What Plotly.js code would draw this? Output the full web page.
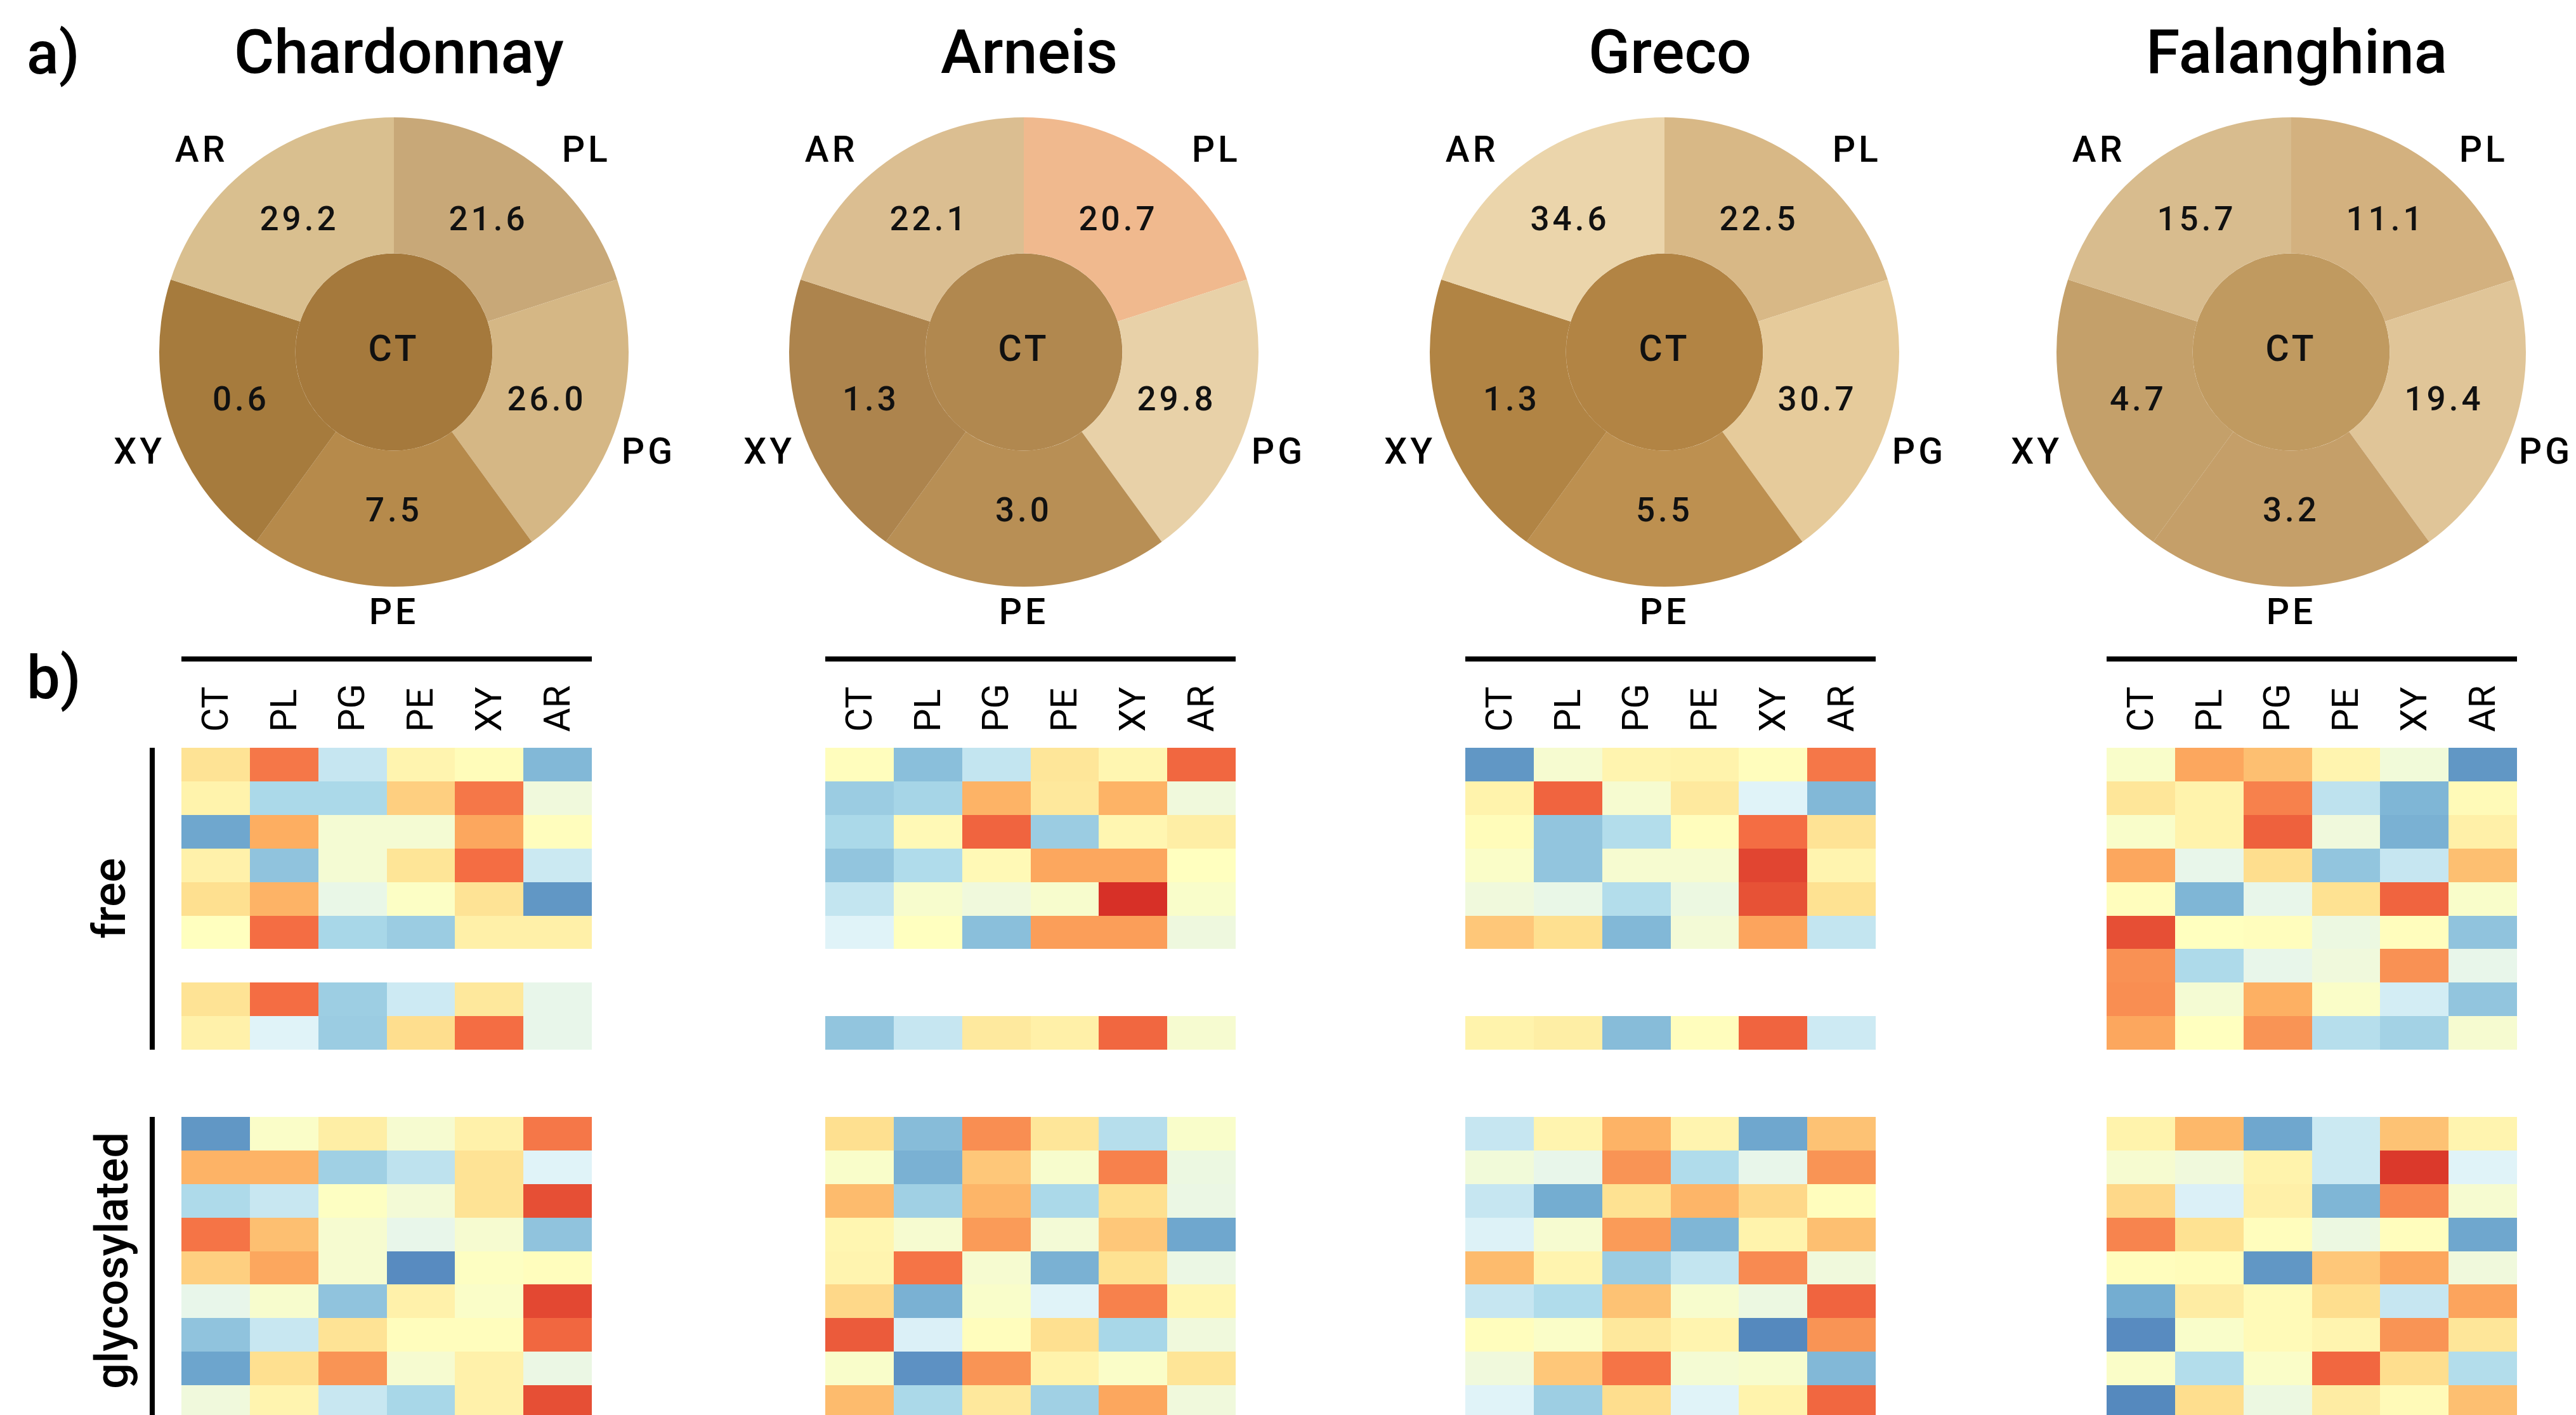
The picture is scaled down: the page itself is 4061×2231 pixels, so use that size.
<!DOCTYPE html>
<html><head><meta charset="utf-8">
<script src="https://cdn.plot.ly/plotly-3.0.1.min.js"></script>
<style>html,body{margin:0;padding:0;background:#fff}
.scatterlayer .textpoint text{letter-spacing:5px}</style>
</head><body><div id="chart" style="width:4061px;height:2231px"></div>
<script>
// ---------------- data ----------------
const cultivars = ['Chardonnay', 'Arneis', 'Greco', 'Falanghina'];
const treatments = ['CT', 'PL', 'PG', 'PE', 'XY', 'AR'];
const ringTreatments = ['PL', 'PG', 'PE', 'XY', 'AR'];

// percentages shown in the outer ring (order PL, PG, PE, XY, AR)
const chardonnayPct = [21.6, 26.0, 7.5, 0.6, 29.2];
const arneisPct = [20.7, 29.8, 3.0, 1.3, 22.1];
const grecoPct = [22.5, 30.7, 5.5, 1.3, 34.6];
const falanghinaPct = [11.1, 19.4, 3.2, 4.7, 15.7];

// heatmap values (scaled, columns CT PL PG PE XY AR); null = not detected
const chardonnayFree = [
  [0.18, 0.57, -0.30, 0.07, 0.02, -0.55],
  [0.08, -0.40, -0.40, 0.27, 0.57, -0.10],
  [-0.62, 0.40, -0.07, -0.07, 0.42, 0.01],
  [0.09, -0.50, -0.07, 0.17, 0.60, -0.28],
  [0.20, 0.38, -0.14, -0.02, 0.18, -0.68],
  [0.00, 0.60, -0.41, -0.46, 0.10, 0.10],
  [null, null, null, null, null, null],
  [0.18, 0.60, -0.45, -0.27, 0.15, -0.15],
  [0.09, -0.20, -0.46, 0.21, 0.60, -0.15]
];
const chardonnayGlyco = [
  [-0.68, -0.03, 0.11, -0.06, 0.09, 0.57],
  [0.38, 0.38, -0.44, -0.33, 0.18, -0.20],
  [-0.39, -0.29, -0.01, -0.08, 0.18, 0.70],
  [0.58, 0.33, -0.06, -0.15, -0.06, -0.50],
  [0.27, 0.42, -0.06, -0.72, -0.01, 0.01],
  [-0.15, -0.05, -0.50, 0.09, -0.03, 0.72],
  [-0.50, -0.29, 0.18, 0.01, 0.01, 0.62],
  [-0.63, 0.20, 0.48, -0.06, 0.09, -0.13],
  [-0.10, 0.07, -0.29, -0.41, 0.09, 0.70]
];
const arneisFree = [
  [0.01, -0.52, -0.31, 0.16, 0.06, 0.62],
  [-0.46, -0.42, 0.38, 0.15, 0.38, -0.10],
  [-0.40, 0.04, 0.63, -0.46, 0.06, 0.11],
  [-0.49, -0.38, 0.04, 0.42, 0.42, 0.00],
  [-0.31, -0.05, -0.10, -0.05, 0.80, -0.04],
  [-0.20, 0.00, -0.52, 0.45, 0.45, -0.11],
  [null, null, null, null, null, null],
  [null, null, null, null, null, null],
  [-0.49, -0.30, 0.14, 0.10, 0.62, -0.06]
];
const arneisGlyco = [
  [0.20, -0.53, 0.50, 0.16, -0.36, -0.04],
  [-0.04, -0.58, 0.30, -0.05, 0.54, -0.12],
  [0.35, -0.44, 0.37, -0.40, 0.20, -0.13],
  [0.06, -0.06, 0.46, -0.08, 0.30, -0.62],
  [0.07, 0.58, -0.06, -0.58, 0.19, -0.13],
  [0.23, -0.58, -0.04, -0.20, 0.54, 0.06],
  [0.66, -0.22, 0.01, 0.20, -0.41, -0.10],
  [-0.04, -0.70, 0.48, 0.08, -0.03, 0.17],
  [0.35, -0.40, 0.15, -0.44, 0.42, -0.10]
];
const grecoFree = [
  [-0.68, -0.06, 0.07, 0.08, 0.01, 0.57],
  [0.08, 0.63, -0.06, 0.14, -0.20, -0.55],
  [0.02, -0.49, -0.37, 0.01, 0.60, 0.18],
  [-0.03, -0.49, -0.06, -0.06, 0.73, 0.07],
  [-0.10, -0.14, -0.37, -0.12, 0.69, 0.19],
  [0.30, 0.20, -0.55, -0.08, 0.43, -0.31],
  [null, null, null, null, null, null],
  [null, null, null, null, null, null],
  [0.08, 0.11, -0.53, 0.01, 0.63, -0.27]
];
const grecoGlyco = [
  [-0.30, 0.07, 0.38, 0.07, -0.62, 0.32],
  [-0.09, -0.15, 0.48, -0.38, -0.15, 0.48],
  [-0.30, -0.60, 0.19, 0.37, 0.23, 0.01],
  [-0.21, -0.06, 0.46, -0.56, 0.08, 0.33],
  [0.35, 0.07, -0.46, -0.31, 0.51, -0.10],
  [-0.30, -0.38, 0.32, -0.05, -0.12, 0.63],
  [0.01, -0.03, 0.15, 0.07, -0.73, 0.48],
  [-0.10, 0.30, 0.58, -0.07, -0.05, -0.55],
  [-0.20, -0.45, 0.21, -0.20, 0.08, 0.62]
];
const falanghinaFree = [
  [-0.04, 0.42, 0.33, 0.07, -0.09, -0.68],
  [0.16, 0.08, 0.54, -0.33, -0.56, 0.03],
  [-0.04, 0.08, 0.64, -0.10, -0.58, 0.10],
  [0.42, -0.15, 0.21, -0.49, -0.30, 0.33],
  [0.01, -0.56, -0.15, 0.19, 0.63, -0.04],
  [0.70, 0.00, 0.01, -0.12, 0.01, -0.50],
  [0.49, -0.39, -0.15, -0.10, 0.49, -0.15],
  [0.50, -0.07, 0.39, -0.03, -0.25, -0.49],
  [0.42, 0.00, 0.48, -0.36, -0.43, -0.06]
];
const falanghinaGlyco = [
  [0.08, 0.36, -0.62, -0.28, 0.32, 0.07],
  [-0.06, -0.10, 0.08, -0.28, 0.77, -0.20],
  [0.23, -0.22, 0.10, -0.56, 0.52, -0.06],
  [0.53, 0.19, 0.01, -0.12, 0.01, -0.62],
  [0.01, 0.02, -0.68, 0.30, 0.42, -0.10],
  [-0.60, 0.12, 0.03, 0.21, -0.30, 0.43],
  [-0.72, -0.04, 0.03, 0.07, 0.48, 0.16],
  [-0.03, -0.37, -0.03, 0.62, 0.21, -0.37],
  [-0.73, 0.21, -0.12, 0.12, 0.03, 0.33]
];

// ---------------- styles ----------------
const W = 4061, H = 2231;
const FONT = 'Roboto, "DejaVu Sans", sans-serif';
const sectorColors = {
  Chardonnay: { CT: '#a5793c', ring: ['#c8a878', '#d5b785', '#b68a4b', '#a67b3d', '#d9bf8f'] },
  Arneis:     { CT: '#b1884f', ring: ['#f0b98e', '#e8d1a8', '#b88f55', '#ad844d', '#dbbe91'] },
  Greco:      { CT: '#b28444', ring: ['#d8b886', '#e6cb9b', '#bd9050', '#b18444', '#ebd5ab'] },
  Falanghina: { CT: '#c09a60', ring: ['#d3b17f', '#e0c598', '#c59f69', '#c4a06a', '#d8bc8e'] }
};
const rdylbu = ['#313695', '#4575b4', '#74add1', '#abd9e9', '#e0f3f8', '#ffffbf',
                '#fee090', '#fdae61', '#f46d43', '#d73027', '#a50026'];
const heatScale = rdylbu.map((c, i) => [i / (rdylbu.length - 1), c]);

const pieCenters = [621, 1614, 2624, 3612];   // px
const pieCY = 555, pieR = 370;
const rMax = 1.2;                              // radial room for outer labels
const heatLeft = [286, 1301, 2310, 3321], heatW = 647;
const heatTop = 1179, rowH = 52.9;
const innerR = 0.42;
const sectorWidth = 360 / ringTreatments.length;
const sectorTheta = ringTreatments.map((_, i) => sectorWidth / 2 + i * sectorWidth);
const labelTheta = [44, 112, 180, 248, 316];
const labelR = [1.18, 1.17, 1.12, 1.17, 1.18];

const pcts = [chardonnayPct, arneisPct, grecoPct, falanghinaPct];
const frees = [chardonnayFree, arneisFree, grecoFree, falanghinaFree];
const glycos = [chardonnayGlyco, arneisGlyco, grecoGlyco, falanghinaGlyco];

const px2x = v => v / W;
const px2y = v => 1 - v / H;

const data = [];
const layout = {
  width: W, height: H,
  margin: { l: 0, r: 0, t: 0, b: 0 },
  paper_bgcolor: '#ffffff', plot_bgcolor: '#ffffff',
  showlegend: false,
  font: { family: FONT, color: '#000' },
  annotations: [], shapes: []
};

const gapRows = 2;
const nanRow = treatments.map(() => null);

cultivars.forEach((name, i) => {
  const pid = i === 0 ? 'polar' : 'polar' + (i + 1);
  const col = sectorColors[name];
  // center disk (CT)
  data.push({
    type: 'barpolar', subplot: pid, r: [innerR], base: [0], theta: [0], width: [360],
    marker: { color: col.CT, line: { width: 0 } }, hoverinfo: 'skip'
  });
  // outer ring
  data.push({
    type: 'barpolar', subplot: pid,
    r: ringTreatments.map(() => 1 - innerR), base: ringTreatments.map(() => innerR),
    theta: sectorTheta, width: ringTreatments.map(() => sectorWidth),
    marker: { color: col.ring, line: { width: 0 } }, hoverinfo: 'skip'
  });
  // values
  data.push({
    type: 'scatterpolar', subplot: pid, mode: 'text',
    r: ringTreatments.map(() => 0.685), theta: sectorTheta,
    text: pcts[i].map(v => v.toFixed(1)),
    textfont: { size: 53, family: FONT, weight: 500, color: '#111' }, hoverinfo: 'skip', cliponaxis: false
  });
  // CT label
  data.push({
    type: 'scatterpolar', subplot: pid, mode: 'text', r: [0], theta: [0], text: [treatments[0]],
    textfont: { size: 57, family: FONT, weight: 500, color: '#111' }, hoverinfo: 'skip', cliponaxis: false
  });
  // outer labels
  data.push({
    type: 'scatterpolar', subplot: pid, mode: 'text', r: labelR, theta: labelTheta,
    text: ringTreatments, textfont: { size: 57, family: FONT, weight: 500, color: '#000' },
    hoverinfo: 'skip', cliponaxis: false
  });
  const dr = pieR * rMax;
  layout[pid] = {
    domain: {
      x: [px2x(pieCenters[i] - dr), px2x(pieCenters[i] + dr)],
      y: [px2y(pieCY + dr), px2y(pieCY - dr)]
    },
    bgcolor: 'rgba(0,0,0,0)',
    radialaxis: { visible: false, range: [0, rMax] },
    angularaxis: { visible: false, rotation: 90, direction: 'clockwise' }
  };
  // title
  layout.annotations.push({
    text: name, xref: 'paper', yref: 'paper', x: px2x(pieCenters[i] + 8), y: px2y(82),
    xanchor: 'center', yanchor: 'middle', showarrow: false,
    font: { size: 97, family: FONT, weight: 500, color: '#000' }
  });

  // heatmap
  const xa = i === 0 ? 'x' : 'x' + (i + 1);
  const ya = i === 0 ? 'y' : 'y' + (i + 1);
  const z = frees[i].concat(Array.from({ length: gapRows }, () => nanRow), glycos[i]);
  const yIdx = z.map((_, k) => k + 1);
  data.push({
    type: 'heatmap', xaxis: xa, yaxis: ya, x: treatments, y: yIdx, z: z,
    colorscale: heatScale, zmin: -1, zmax: 1, showscale: false, zsmooth: false,
    hoverongaps: false
  });
  const nRowsVisible = (H - heatTop) / rowH;
  layout['xaxis' + (i === 0 ? '' : i + 1)] = {
    domain: [px2x(heatLeft[i]), px2x(heatLeft[i] + heatW)],
    anchor: ya, side: 'top', type: 'category', range: [-0.5, 5.5],
    tickangle: -90, ticks: '', ticklabelstandoff: 24,
    tickfont: { size: 58, family: FONT, color: '#000' },
    showgrid: false, zeroline: false, showline: false
  };
  layout['yaxis' + (i === 0 ? '' : i + 1)] = {
    domain: [0, px2y(heatTop)], anchor: xa,
    range: [0.5 + nRowsVisible, 0.5], showticklabels: false, ticks: '',
    showgrid: false, zeroline: false, showline: false
  };
  // top line above column labels
  layout.shapes.push({
    type: 'line', xref: xa + ' domain', yref: 'paper', x0: 0, x1: 1,
    y0: px2y(1039), y1: px2y(1039), line: { color: '#000', width: 8 }
  });
});

// group brackets & labels (left of first heatmap)
const nFree = chardonnayFree.length;
const glycoStart = nFree + gapRows + 0.5;
layout.shapes.push({
  type: 'line', xref: 'paper', yref: 'y', x0: px2x(240), x1: px2x(240),
  y0: 0.5, y1: nFree + 0.5, line: { color: '#000', width: 8 }
});
layout.shapes.push({
  type: 'line', xref: 'paper', yref: 'y', x0: px2x(240), x1: px2x(240),
  y0: glycoStart, y1: glycoStart + chardonnayGlyco.length + 1, line: { color: '#000', width: 8 }
});
layout.annotations.push({
  text: 'free', xref: 'paper', yref: 'y', x: px2x(172), y: (nFree + 1) / 2,
  textangle: -90, showarrow: false, xanchor: 'center', yanchor: 'middle',
  font: { size: 72, family: FONT, weight: 500, color: '#000' }
});
layout.annotations.push({
  text: 'glycosylated', xref: 'paper', yref: 'paper', x: px2x(176), y: px2y(1988),
  textangle: -90, showarrow: false, xanchor: 'center', yanchor: 'middle',
  font: { size: 72, family: FONT, weight: 500, color: '#000' }
});
layout.annotations.push({
  text: 'a)', xref: 'paper', yref: 'paper', x: px2x(40), y: px2y(84),
  xanchor: 'left', yanchor: 'middle', showarrow: false,
  font: { size: 94, family: FONT, weight: 500, color: '#000' }
});
layout.annotations.push({
  text: 'b)', xref: 'paper', yref: 'paper', x: px2x(40), y: px2y(1069),
  xanchor: 'left', yanchor: 'middle', showarrow: false,
  font: { size: 94, family: FONT, weight: 500, color: '#000' }
});

Plotly.newPlot('chart', data, layout, { staticPlot: true, displayModeBar: false });
</script></body></html>
